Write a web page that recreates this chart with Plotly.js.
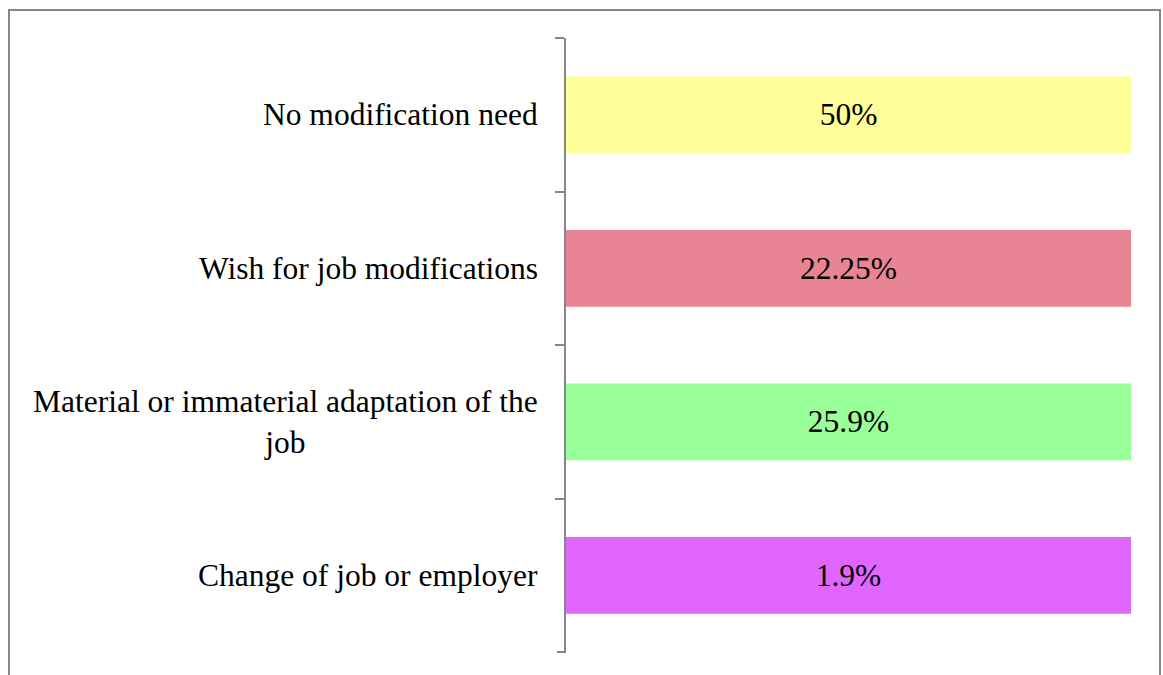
<!DOCTYPE html>
<html>
<head>
<meta charset="utf-8">
<script src="https://cdn.plot.ly/plotly-3.0.1.min.js"></script>
<style>
  html, body { margin: 0; padding: 0; background: #ffffff; }
  #chart { width: 1163px; height: 675px; }
</style>
</head>
<body>
<div id="chart"></div>
<script>
// Categories, top to bottom
const categories = [
  "No modification need",
  "Wish for job modifications",
  "Material or immaterial adaptation of the<br>job",
  "Change of job or employer"
];
// Percent labels shown inside the bars
const percentLabels = ["50%", "22.25%", "25.9%", "1.9%"];
// Each bar is drawn at full length in the original
const barLengths = [100, 100, 100, 100];
const barColors = ["#FFFF99", "#E98494", "#99FF99", "#E066FF"];

const FONT = "Liberation Serif, Times New Roman, serif";
const FS = 31.5;

const trace = {
  type: "bar",
  orientation: "h",
  y: categories,
  x: barLengths,
  text: percentLabels,
  textposition: "inside",
  insidetextanchor: "middle",
  constraintext: "none",
  textfont: { family: FONT, size: FS, color: "#000000" },
  marker: { color: barColors, line: { width: 0 } },
  width: 0.5,
  hoverinfo: "none"
};

const L = 566, R = 1131, T = 38, B = 652;
const W = 1163, H = 675;
const px = (x) => (x - L) / (R - L);
const py = (y) => (B - y) / (B - T);

const annotations = categories.map((c) => ({
  xref: "paper", yref: "y",
  x: px(540), y: c,
  xanchor: "right", yanchor: "middle",
  text: c, showarrow: false, align: "center",
  font: { family: FONT, size: FS, color: "#000000" }
}));

const layout = {
  width: W, height: H,
  margin: { l: L, r: W - R, t: T, b: H - B, pad: 0 },
  paper_bgcolor: "#ffffff",
  plot_bgcolor: "#ffffff",
  showlegend: false,
  xaxis: {
    range: [0, 100],
    visible: false,
    fixedrange: true
  },
  yaxis: {
    type: "category",
    range: [3.5, -0.5],
    showticklabels: false,
    ticks: "outside",
    tickson: "boundaries",
    ticklen: 9,
    tickwidth: 2,
    tickcolor: "#868686",
    showline: true,
    linecolor: "#868686",
    linewidth: 2,
    showgrid: false,
    zeroline: false
  },
  annotations: annotations,
  shapes: [
    {
      type: "rect", xref: "paper", yref: "paper",
      x0: px(9), x1: px(1160), y0: py(700), y1: py(10),
      line: { color: "#868686", width: 2 },
      fillcolor: "rgba(0,0,0,0)",
      layer: "below"
    },
    {
      type: "line", xref: "paper", yref: "paper",
      x0: px(557), x1: px(566), y0: 0, y1: 0,
      line: { color: "#868686", width: 2 }
    }
  ]
};

Plotly.newPlot("chart", [trace], layout, { displayModeBar: false, staticPlot: true });
</script>
</body>
</html>
